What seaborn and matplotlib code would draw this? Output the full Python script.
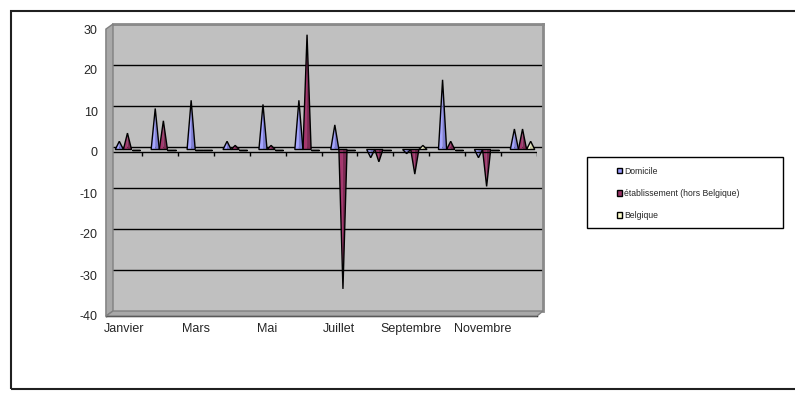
import pandas as pd
import numpy as np
import matplotlib
matplotlib.use('Agg')
import matplotlib.pyplot as plt
from matplotlib.patches import Polygon, Rectangle, Patch
from matplotlib.colors import to_rgb
import seaborn as sns

sns.set_style("white")
plt.rcParams['font.family'] = ['Liberation Sans', 'DejaVu Sans']
plt.rcParams['axes.unicode_minus'] = False

# données
mois = ['Janvier', 'Février', 'Mars', 'Avril', 'Mai', 'Juin',
        'Juillet', 'Août', 'Septembre', 'Octobre', 'Novembre', 'Décembre']
series = ['Domicile', 'établissement (hors Belgique)', 'Belgique']
domicile = [2, 10, 12, 2, 11, 12, 6, -2, -1, 17, -2, 5]
etablissement = [4, 7, 0, 1, 1, 28, -34, -3, -6, 2, -9, 5]
belgique = [0, 0, 0, 0, 0, 0, 0, 0, 1, 0, 0, 2]
couleurs = ['#9999FF', '#993366', '#FFFFCC']

df = pd.DataFrame({
    'mois': mois * 3,
    'serie': [series[0]] * 12 + [series[1]] * 12 + [series[2]] * 12,
    'valeur': domicile + etablissement + belgique,
})

W, H = 795, 394


def box(x0, y0, x1, y1):
    # pixels (haut-gauche) -> fraction de figure
    return [x0 / W, 1 - y1 / H, (x1 - x0) / W, (y1 - y0) / H]


def fpt(x, y):
    return (x / W, 1 - y / H)


fig = plt.figure(figsize=(7.95, 3.94), dpi=100)

# paroi 3D : mur du fond, côté gauche, sol
wall = fig.add_axes(box(113, 24, 543, 311))
wall.set_facecolor('#C0C0C0')
wall.set_ylim(-40, 30)
wall.set_xlim(0, 1)
for v in range(-30, 31, 10):
    wall.axhline(v, color='black', linewidth=1)
wall.set_xticks([])
wall.set_yticks([])
for s in ['top', 'right']:
    wall.spines[s].set_color('#8A8A8A')
    wall.spines[s].set_linewidth(2)
for s in ['left', 'bottom']:
    wall.spines[s].set_visible(False)

fig.patches.append(Polygon([fpt(106, 29), fpt(113, 24), fpt(113, 311), fpt(106, 316)],
                           closed=True, transform=fig.transFigure,
                           facecolor='#A8A8A8', edgecolor='#808080', linewidth=1))
fig.patches.append(Polygon([fpt(106, 316), fpt(113, 311), fpt(543, 311), fpt(537, 316)],
                           closed=True, transform=fig.transFigure,
                           facecolor='#A8A8A8', edgecolor='#808080', linewidth=1))

# pyramides (à mi-profondeur)
ax = fig.add_axes(box(109.5, 26.5, 540.5, 313.5))
ax.patch.set_alpha(0)
sns.barplot(data=df, x='mois', y='valeur', hue='serie', order=mois,
            hue_order=series, palette=couleurs, width=0.68, legend=False,
            ax=ax, errorbar=None, saturation=1)

rects = list(ax.patches)
for r in rects:
    x0, w, h = r.get_x(), r.get_width(), r.get_height()
    y0 = r.get_y()
    c = np.array(to_rgb(r.get_facecolor()))
    left = Polygon([(x0, y0), (x0 + w / 2, y0 + h), (x0 + w / 2, y0)],
                   closed=True, facecolor=np.minimum(c * 1.08, 1),
                   edgecolor='none', zorder=3)
    right = Polygon([(x0 + w / 2, y0), (x0 + w / 2, y0 + h), (x0 + w, y0)],
                    closed=True, facecolor=c * 0.82, edgecolor='none', zorder=3)
    outline = Polygon([(x0, y0), (x0 + w / 2, y0 + h), (x0 + w, y0)],
                      closed=True, fill=False, edgecolor='black',
                      linewidth=1.0, zorder=4)
    r.remove()
    ax.add_patch(left)
    ax.add_patch(right)
    ax.add_patch(outline)

ax.set_ylim(-40, 30)
ax.set_xlim(-0.5, 11.5)
ax.axis('off')

# axes avant : graduations et étiquettes
front = fig.add_axes(box(106, 29, 537, 316))
front.patch.set_alpha(0)
front.set_ylim(-40, 30)
front.set_xlim(-0.5, 11.5)
front.set_yticks(range(-40, 31, 10))
front.set_xticks(range(0, 12, 2))
front.set_xticklabels([mois[i] for i in range(0, 12, 2)])
front.set_xticks(np.arange(-0.5, 12, 1), minor=True)
front.tick_params(axis='x', which='major', length=0, pad=5, labelsize=9)
front.tick_params(axis='x', which='minor', length=4, direction='out',
                  color='black', width=1)
front.tick_params(axis='y', length=4, direction='out', color='black',
                  width=1, labelsize=9, pad=2)
for s in ['left', 'bottom']:
    front.spines[s].set_color('black')
    front.spines[s].set_linewidth(1)
for s in ['top', 'right']:
    front.spines[s].set_visible(False)

# axe des catégories à zéro
front.axhline(0, color='black', linewidth=1, zorder=2)
front.vlines(np.arange(-0.5, 12, 1), -0.9, 0, color='black', linewidth=1)

# cadre extérieur
fig.patches.append(Rectangle((11 / W, 5 / H), 1.0, 378 / H,
                             transform=fig.transFigure, fill=False,
                             edgecolor='#202020', linewidth=1.5))

# légende
fig.patches.append(Rectangle((587 / W, 1 - 228 / H), 196 / W, 71 / H,
                             transform=fig.transFigure, fill=False,
                             edgecolor='black', linewidth=1))
handles = [Patch(facecolor=c, edgecolor='black', linewidth=1) for c in couleurs]
fig.legend(handles, series, loc='upper left',
           bbox_to_anchor=(617 / W, 1 - 166.5 / H), frameon=False,
           fontsize=6.2, handlelength=0.6, handleheight=0.6,
           handletextpad=0.25, labelspacing=1.55, borderpad=0,
           borderaxespad=0)

plt.savefig('out.png', dpi=100)
